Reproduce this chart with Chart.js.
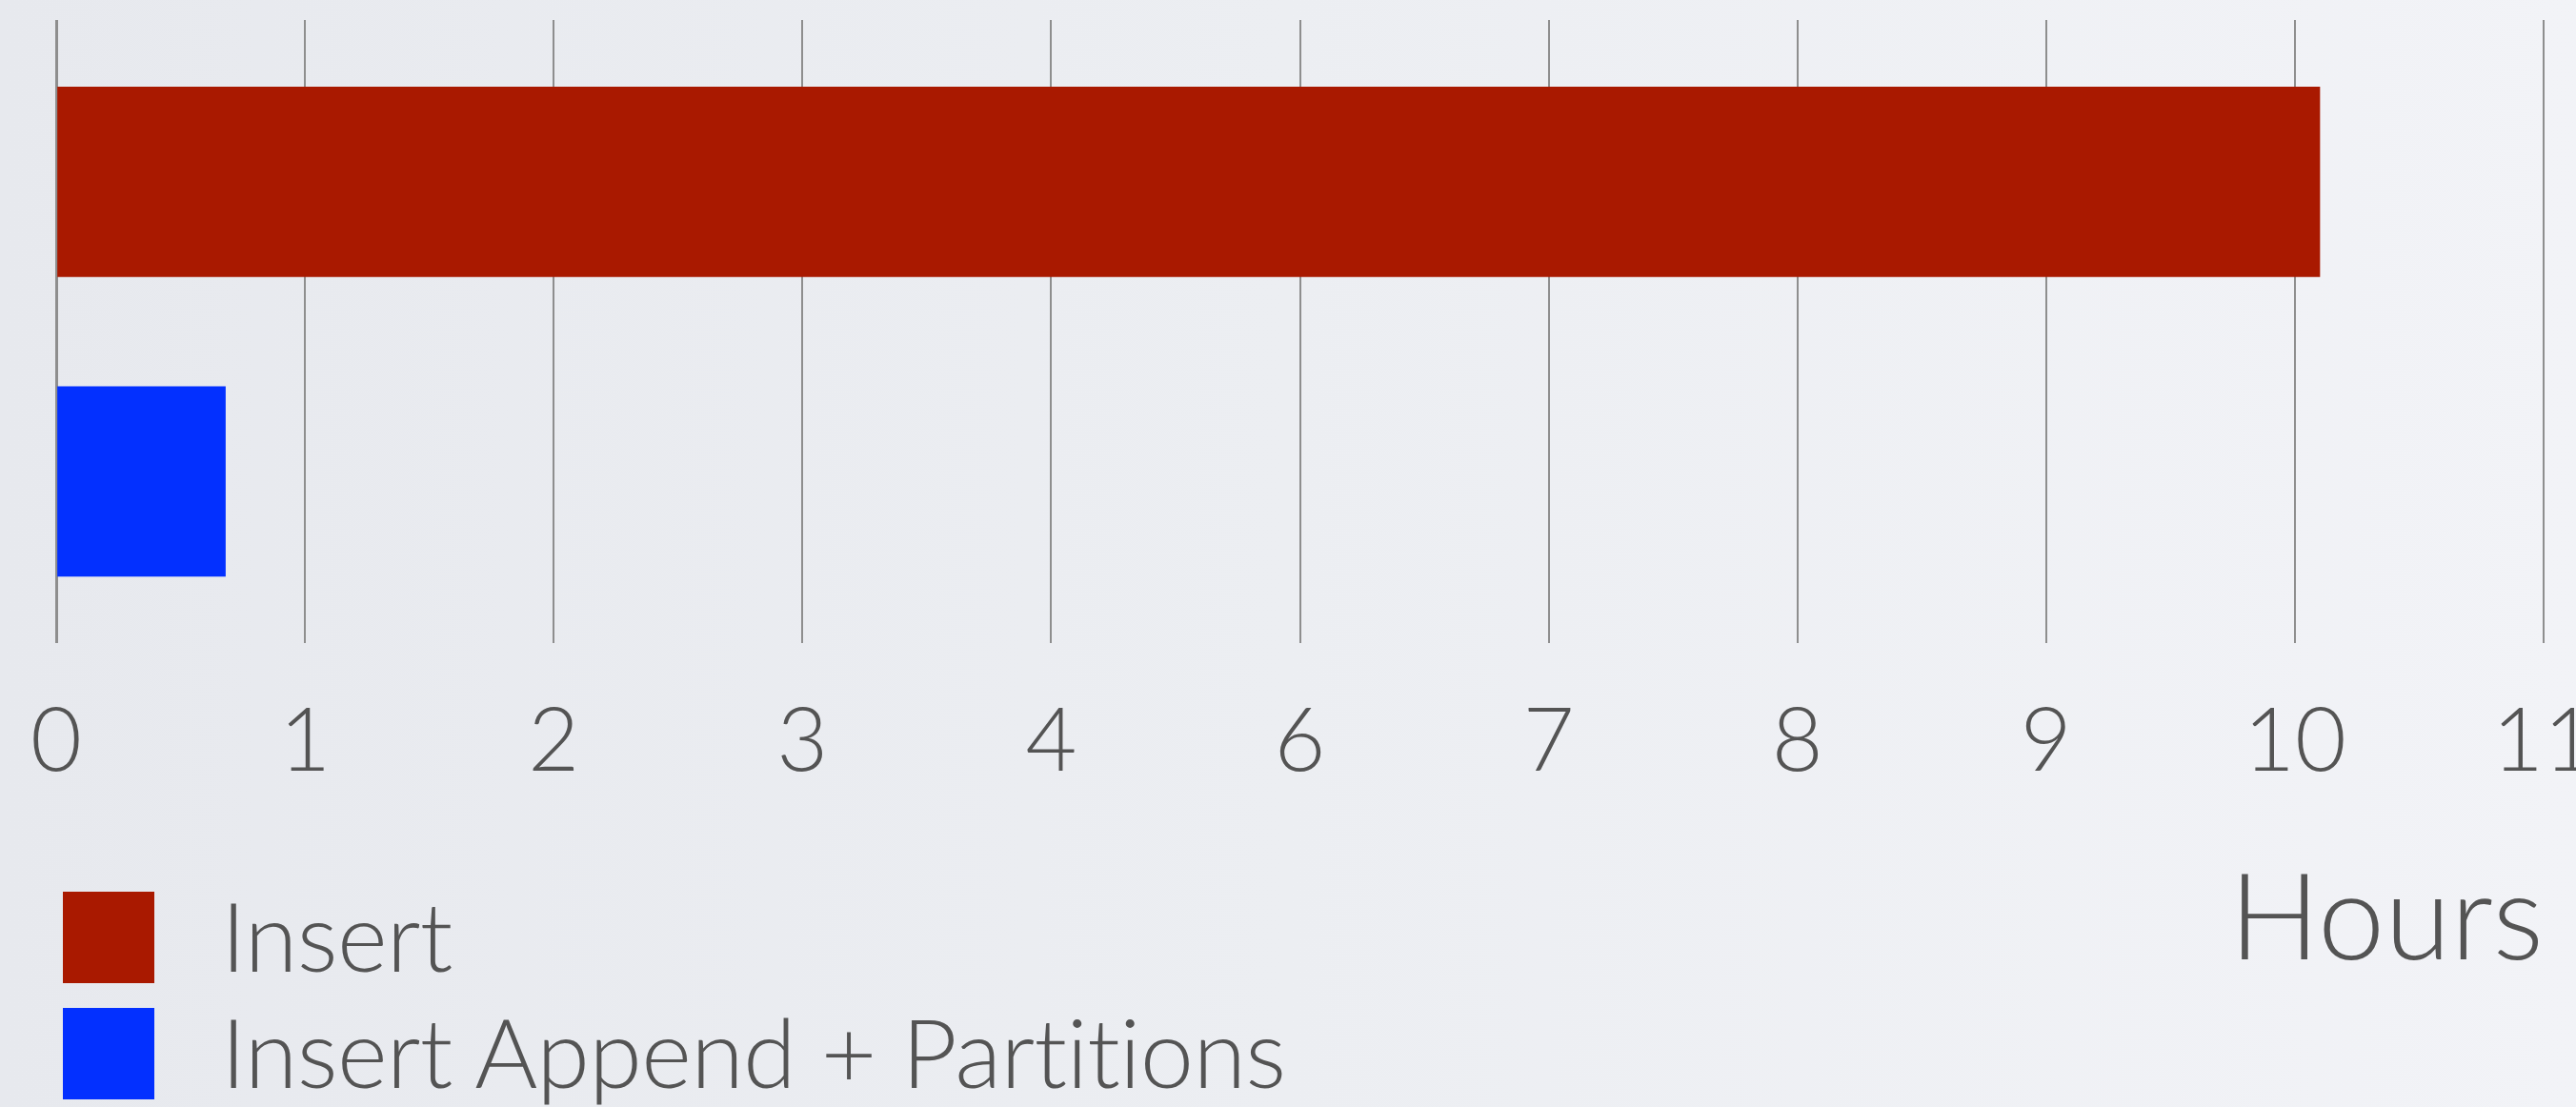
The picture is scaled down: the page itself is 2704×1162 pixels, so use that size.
<!DOCTYPE html>
<html>
<head>
<meta charset="utf-8">
<script src="https://cdn.jsdelivr.net/npm/chart.js@4/dist/chart.umd.min.js"></script>
<style>
  html, body { margin: 0; padding: 0; }
  body {
    width: 2704px; height: 1162px; overflow: hidden; position: relative;
    background: linear-gradient(90deg, #e7e9ee 0%, #eceef2 50%, #f2f3f7 100%);
    font-family: Lato, "Open Sans", sans-serif;
  }
  #wrap { position: absolute; left: 0; top: 0; width: 2704px; height: 1162px; }
  #legend { position: absolute; left: 66px; top: 920px; margin: 0; padding: 0; list-style: none; }
  #legend li { position: relative; height: 122px; line-height: 122px; font-size: 101px; font-weight: 300; color: #545454; padding-left: 166px; white-space: nowrap; letter-spacing: -0.7px; }
  #legend li span.box { position: absolute; left: 0; top: 16px; width: 96px; height: 96px; }
</style>
</head>
<body>
<div id="wrap"><canvas id="c" width="2704" height="1162"></canvas></div>
<ul id="legend"></ul>
<script>
// ---- data ----
const categories = ['Insert', 'Insert Append + Partitions'];
const hours = [10.1, 0.68];
const seriesColors = ['#a91900', '#0330ff'];
const tickLabels = ['0', '1', '2', '3', '4', '6', '7', '8', '9', '10', '11'];
const tickValues = [0, 1, 2, 3, 4, 6, 7, 8, 9, 10, 11];
const axisTitle = 'Hours';

// the axis ticks are evenly spaced by index, so place a value by its labelled ticks
function toAxisPos(h) {
  for (let i = 0; i < tickValues.length - 1; i++) {
    if (h >= tickValues[i] && h <= tickValues[i + 1]) {
      return i + (h - tickValues[i]) / (tickValues[i + 1] - tickValues[i]);
    }
  }
  return tickValues.length - 1;
}

const textColor = '#545454';
const fontFamily = 'Lato, "Open Sans", sans-serif';

const datasets = categories.map((name, i) => ({
  label: name,
  data: [{ x: toAxisPos(hours[i]), y: i }],
  backgroundColor: seriesColors[i],
  borderWidth: 0,
  barThickness: 199,
  grouped: false
}));

const chart = new Chart(document.getElementById('c'), {
  type: 'bar',
  data: { datasets },
  options: {
    indexAxis: 'y',
    responsive: false,
    devicePixelRatio: 1,
    animation: false,
    layout: { padding: { top: 21, left: 59, right: 34, bottom: 120 } },
    plugins: { legend: { display: false }, tooltip: { enabled: false } },
    scales: {
      x: {
        type: 'linear',
        position: 'bottom',
        min: 0,
        max: tickLabels.length - 1,
        ticks: {
          stepSize: 1,
          autoSkip: false,
          maxRotation: 0,
          padding: 48,
          color: textColor,
          font: { family: fontFamily, size: 93, weight: 300, lineHeight: 1.2 },
          callback: (v) => tickLabels[v]
        },
        grid: {
          color: '#8e8e8e',
          lineWidth: (ctx) => (ctx.index === 0 ? 3 : 2),
          drawTicks: false
        },
        border: { display: false },
        title: {
          display: true,
          text: axisTitle,
          align: 'end',
          color: textColor,
          font: { family: fontFamily, size: 126, weight: 300, lineHeight: 1.2 },
          padding: { top: 8, bottom: 0 }
        },
        afterFit: (scale) => { scale.paddingLeft = 0; scale.paddingRight = 0; }
      },
      y: {
        type: 'linear',
        display: false,
        reverse: true,
        offset: false,
        grid: { offset: false },
        min: -0.54,
        max: 1.54
      }
    }
  }
});

// legend built from the chart's own datasets
const legend = document.getElementById('legend');
chart.data.datasets.forEach((ds) => {
  const li = document.createElement('li');
  const box = document.createElement('span');
  box.className = 'box';
  box.style.background = ds.backgroundColor;
  li.appendChild(box);
  li.appendChild(document.createTextNode(ds.label));
  legend.appendChild(li);
});
</script>
</body>
</html>
